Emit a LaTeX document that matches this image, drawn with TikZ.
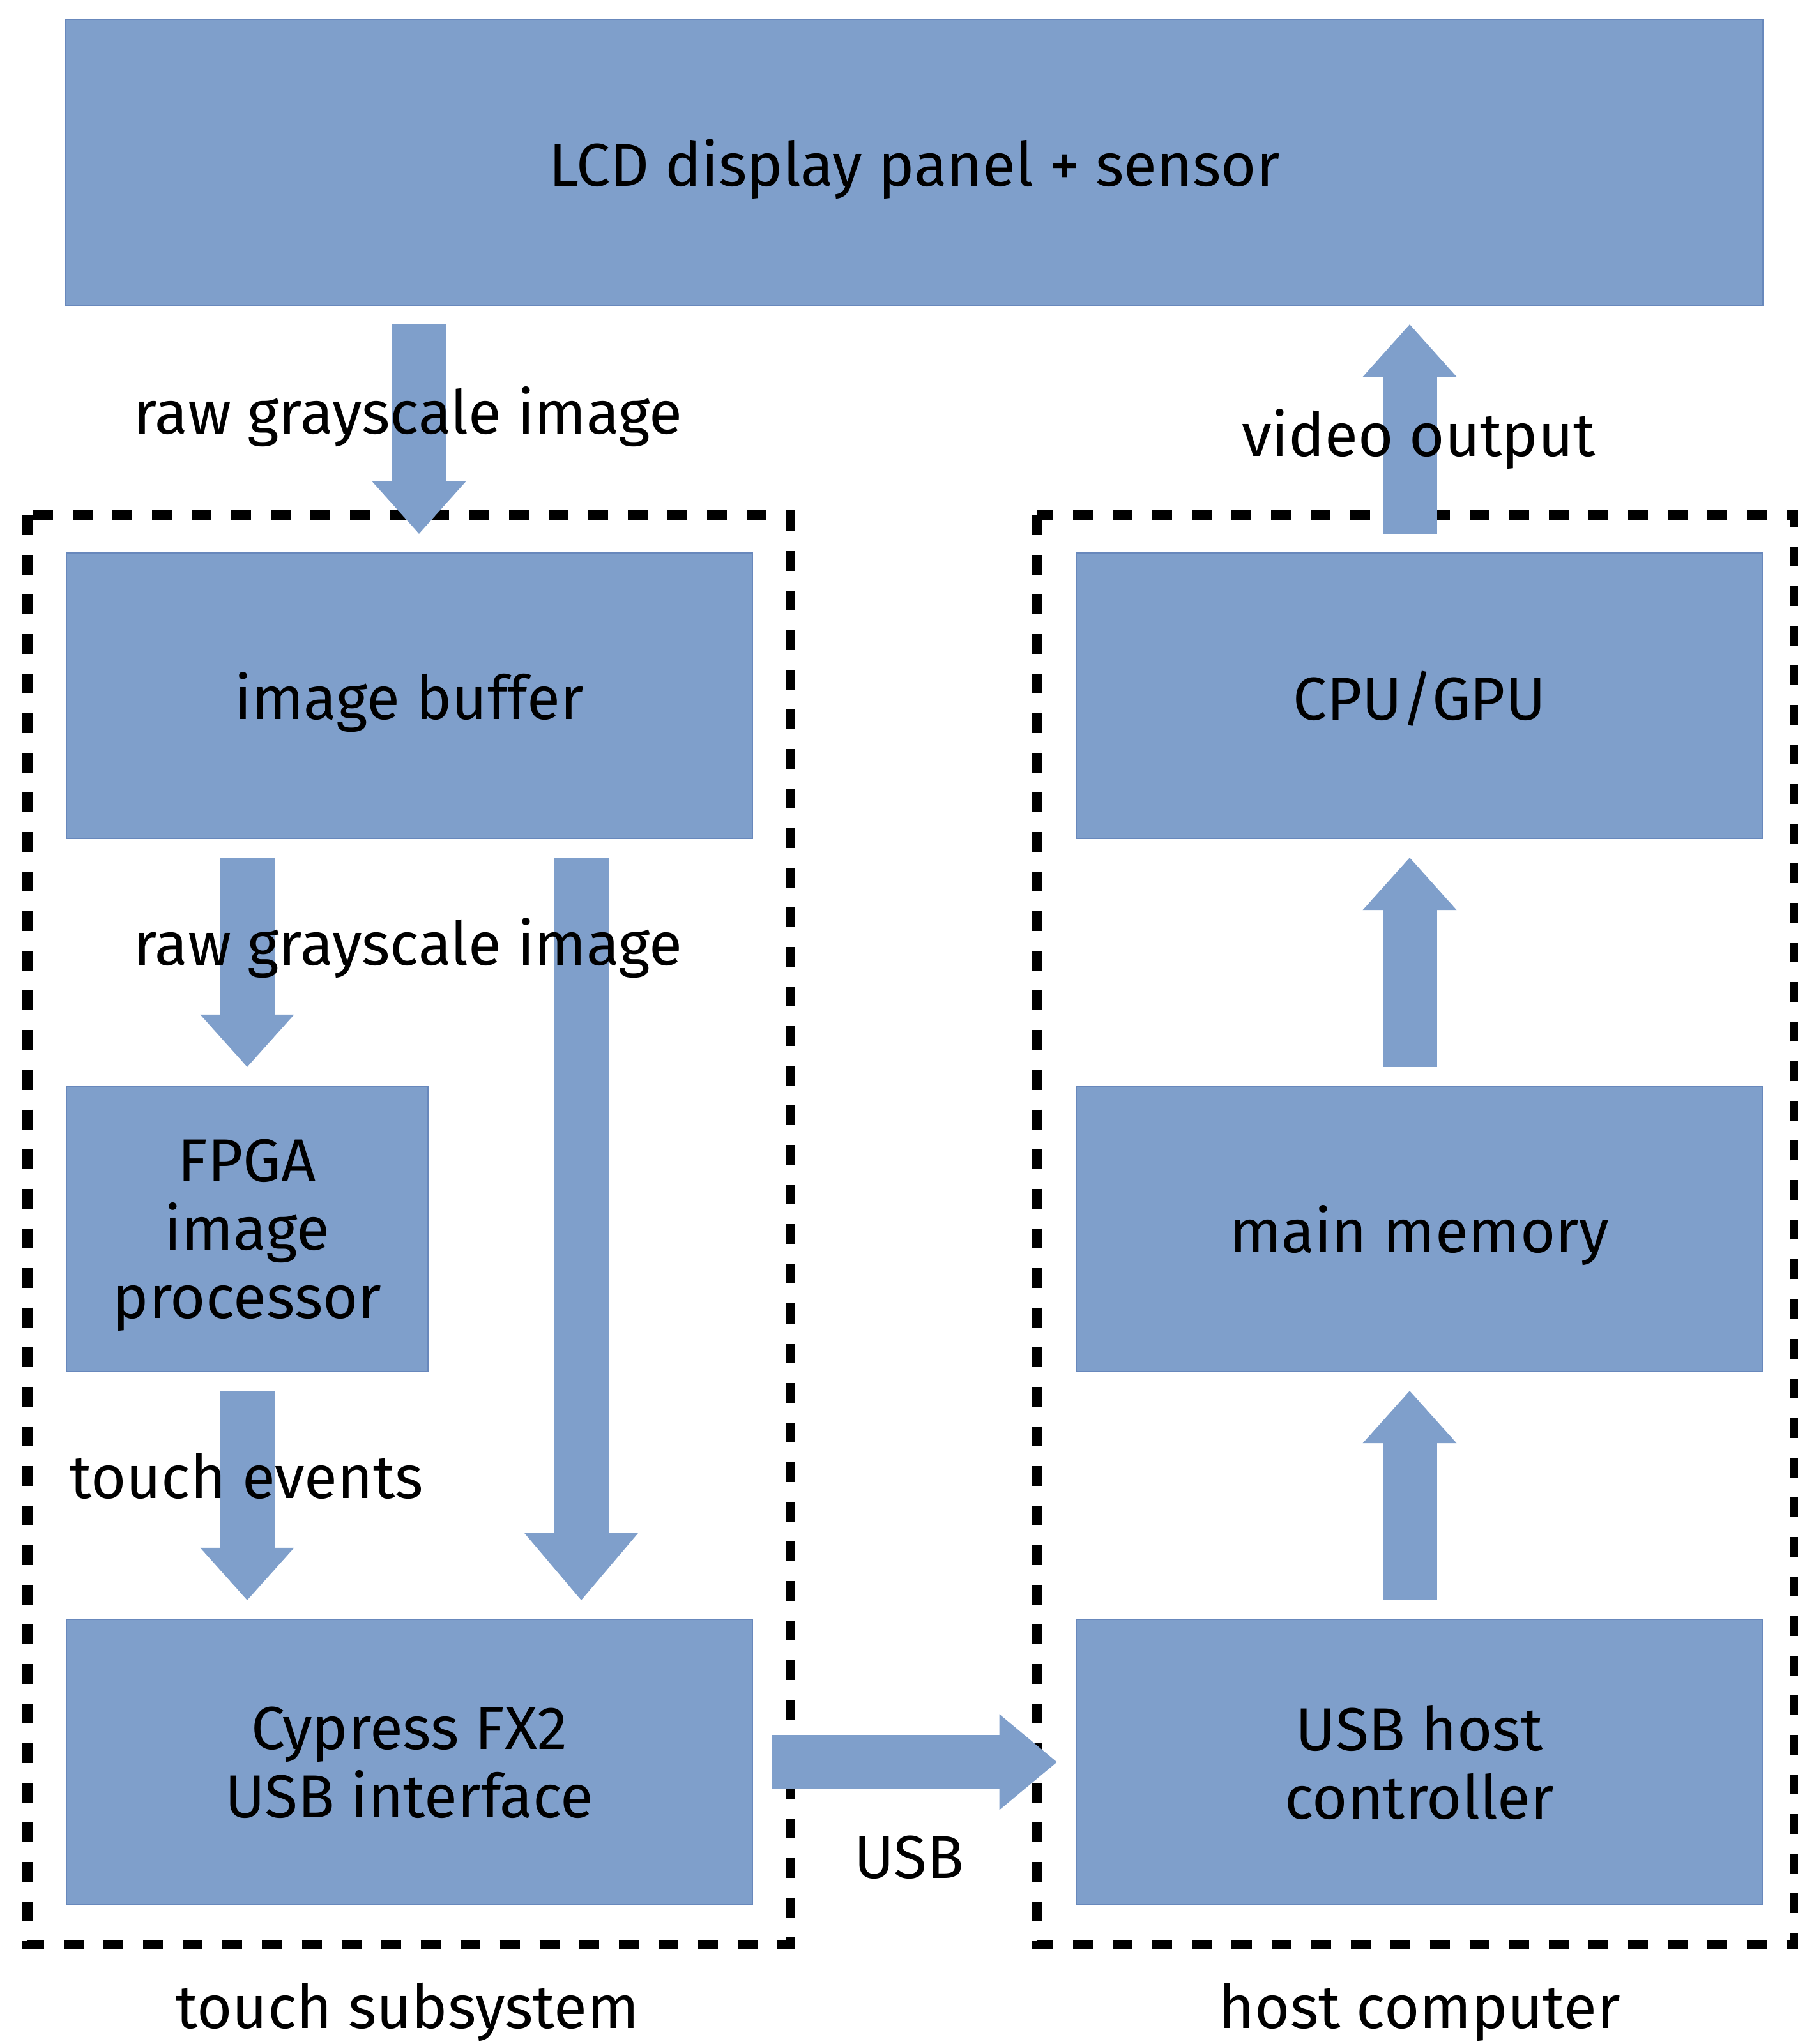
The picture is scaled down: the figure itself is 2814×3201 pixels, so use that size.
\documentclass[tikz,border=0pt]{standalone}
\usepackage{fontspec}
\setmainfont{Fira Sans}
\usetikzlibrary{arrows.meta}
\definecolor{boxblue}{RGB}{127,159,203}
\definecolor{boxedge}{RGB}{104,136,188}

\begin{document}
\begin{tikzpicture}[x=0.01cm,y=-0.01cm,
	every node/.style={font=\fontsize{27}{30.4}\selectfont,align=center,inner sep=0pt,outer sep=0pt},
	blk/.style={rectangle,fill=boxblue,draw=boxedge,line width=0.6pt,minimum height=4.47cm,text depth=0pt},
	grp/.style={draw=black,line width=0.15cm,dash pattern=on 0.31cm off 0.31cm},
	fat/.style={boxblue,line width=0.85cm,shorten <=0.3cm,shorten >=0.3cm,
		-{Triangle[width=1.47cm,length=0.82cm,line width=0pt]}}]

	\useasboundingbox (0,0) rectangle (2814,3201);

	\draw[grp] (43,807) rectangle (1237,3045);
	\draw[grp] (1623,807) rectangle (2810,3045);

	\node[blk,minimum width=26.55cm] (lcd) at (1431.5,254.5) {LCD display panel + sensor};
	\node[blk,minimum width=10.74cm] (buf) at (641,1089.5) {image buffer};
	\node[blk,minimum width=5.66cm] (fpga) at (387,1924.5) {FPGA\\image\\processor};
	\node[blk,minimum width=10.74cm] (fx2) at (641,2759.5) {Cypress FX2\\USB interface};
	\node[blk,minimum width=10.74cm] (cpu) at (2222,1089.5) {CPU/GPU};
	\node[blk,minimum width=10.74cm] (mem) at (2222,1924.5) {main memory};
	\node[blk,minimum width=10.74cm] (usbhc) at (2222,2759.5) {USB host\\controller};

	\coordinate (c1) at (656,0);
	\coordinate (c2) at (910,0);
	\coordinate (c3) at (2207,0);

	\draw[fat] (lcd.south -| c1) -- (buf.north -| c1);
	\draw[fat] (buf.south -| fpga.north) -- (fpga.north);
	\draw[fat] (fpga.south) -- (fx2.north -| fpga.south);
	\draw[fat,-{Triangle[width=1.78cm,length=1.05cm,line width=0pt]}] (buf.south -| c2) -- (fx2.north -| c2);
	\draw[fat] (cpu.north -| c3) -- (lcd.south -| c3);
	\draw[fat] (mem.north -| c3) -- (cpu.south -| c3);
	\draw[fat] (usbhc.north -| c3) -- (mem.south -| c3);
	\draw[fat,-{Triangle[width=1.5cm,length=0.9cm,line width=0pt]}] (fx2.east) -- (usbhc.west);

	\node[anchor=base] (rawa) at (639,680) {raw grayscale image};
	\node[anchor=base] (rawb) at (639,1511) {raw grayscale image};
	\node[anchor=base] (vid) at (2221,715) {video output};
	\node[anchor=base] (tev) at (386,2346) {touch events};
	\node[anchor=base] (usb) at (1423,2941) {USB};
	\node[anchor=base] (tsub) at (638,3176) {touch subsystem};
	\node[anchor=base] (hcomp) at (2223,3176) {host computer};

\end{tikzpicture}
\end{document}
